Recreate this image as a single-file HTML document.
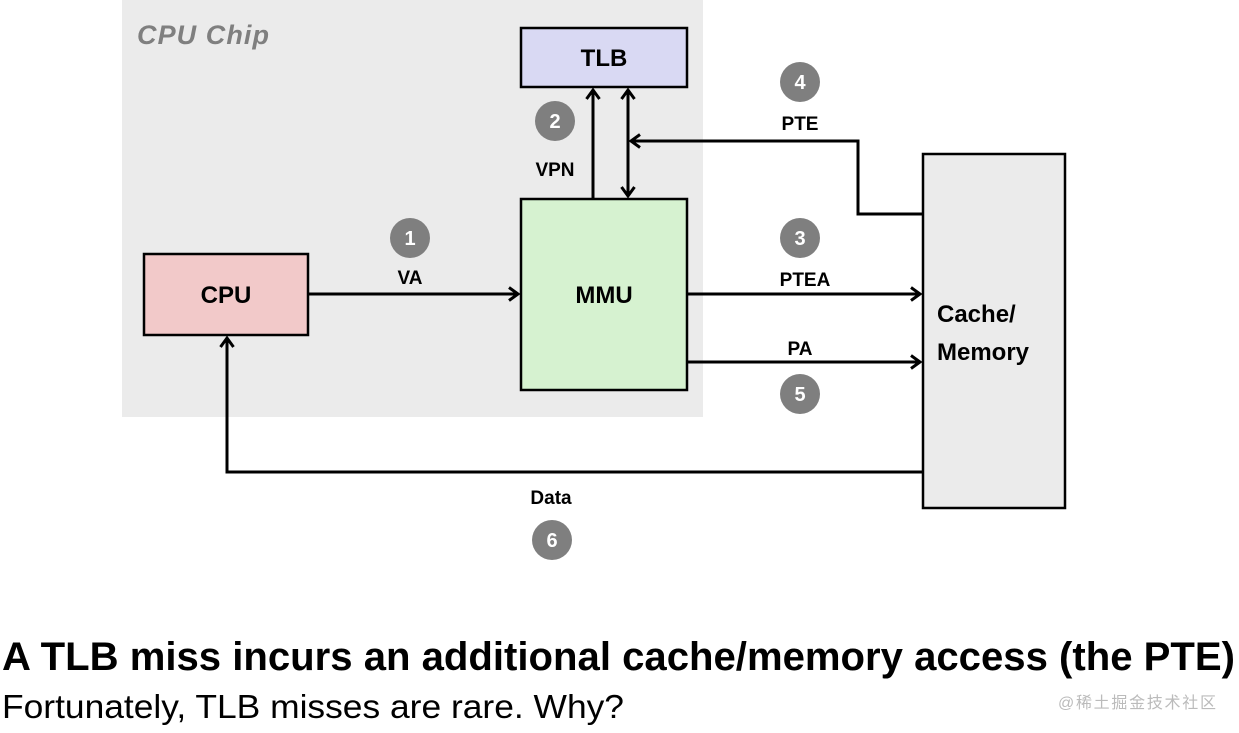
<!DOCTYPE html>
<html><head><style>body{margin:0;background:#fff}svg{display:block}</style></head><body>
<svg width="1239" height="733" xmlns="http://www.w3.org/2000/svg" font-family="Liberation Sans, sans-serif">
<defs><marker id="a" markerWidth="16" markerHeight="16" refX="11" refY="8" orient="auto" markerUnits="userSpaceOnUse"><path d="M2,1.5 L11,8 L2,14.5" fill="none" stroke="#000" stroke-width="3"/></marker>
<marker id="b" markerWidth="16" markerHeight="16" refX="5" refY="8" orient="auto" markerUnits="userSpaceOnUse"><path d="M14,1.5 L5,8 L14,14.5" fill="none" stroke="#000" stroke-width="3"/></marker></defs>
<rect x="122" y="0" width="581" height="417" fill="#ebebeb"/>
<text x="137" y="44" font-size="27" font-weight="bold" font-style="italic" fill="#7f7f7f" textLength="132">CPU Chip</text>
<g stroke="#000" stroke-width="2.5">
<rect x="521" y="28" width="166" height="59" fill="#d9d9f3"/>
<rect x="521" y="199" width="166" height="191" fill="#d6f2d0"/>
<rect x="144" y="254" width="164" height="81" fill="#f2c9c9"/>
<rect x="923" y="154" width="142" height="354" fill="#ebebeb"/>
</g>
<g stroke="#000" stroke-width="3" fill="none">
<line x1="593" y1="199" x2="593" y2="90" marker-end="url(#a)"/>
<line x1="628" y1="196" x2="628" y2="90" marker-end="url(#a)" marker-start="url(#b)"/>
<polyline points="923,214 858,214 858,141 631,141" marker-end="url(#a)"/>
<line x1="308" y1="294" x2="518" y2="294" marker-end="url(#a)"/>
<line x1="687" y1="294" x2="920" y2="294" marker-end="url(#a)"/>
<line x1="687" y1="362" x2="920" y2="362" marker-end="url(#a)"/>
<polyline points="923,472 227,472 227,338" marker-end="url(#a)"/>
</g>
<g font-weight="bold" text-anchor="middle" font-size="24">
<text x="604" y="66">TLB</text>
<text x="604" y="303">MMU</text>
<text x="226" y="303">CPU</text>
</g>
<text x="937" y="322" font-weight="bold" font-size="24">Cache/</text>
<text x="937" y="360" font-weight="bold" font-size="24">Memory</text>
<g fill="#7f7f7f"><circle cx="410" cy="238" r="20"/><circle cx="555" cy="121" r="20"/><circle cx="800" cy="238" r="20"/><circle cx="800" cy="82" r="20"/><circle cx="800" cy="394" r="20"/><circle cx="552" cy="540" r="20"/></g>
<g fill="#fff" font-weight="bold" font-size="20" text-anchor="middle">
<text x="410" y="245">1</text><text x="555" y="128">2</text><text x="800" y="245">3</text><text x="800" y="89">4</text><text x="800" y="401">5</text><text x="552" y="547">6</text></g>
<g font-weight="bold" font-size="19" text-anchor="middle">
<text x="410" y="284">VA</text><text x="555" y="176">VPN</text><text x="805" y="286">PTEA</text><text x="800" y="130">PTE</text><text x="800" y="355">PA</text><text x="551" y="504">Data</text></g>
<text x="2" y="670" font-size="40" font-weight="bold" textLength="1233" lengthAdjust="spacingAndGlyphs">A TLB miss incurs an additional cache/memory access (the PTE)</text>
<text x="2" y="718" font-size="33" textLength="622" lengthAdjust="spacingAndGlyphs">Fortunately, TLB misses are rare. Why?</text>
<text x="1058" y="708" font-size="16" fill="#bbb" textLength="158" font-family="Liberation Sans, Noto Sans CJK SC, sans-serif">@稀土掘金技术社区</text>
</svg>
</body></html>
